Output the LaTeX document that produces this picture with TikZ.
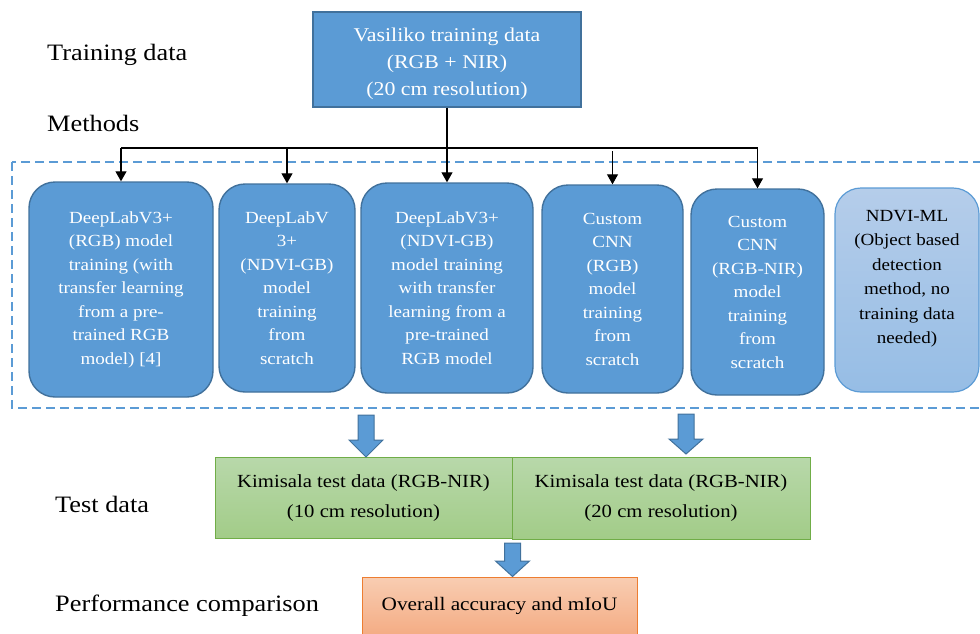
\documentclass[tikz,border=0pt]{standalone}
\usepackage{fontspec}
\setmainfont{Liberation Serif}[FakeStretch=1.12]
\usetikzlibrary{arrows.meta,calc}
\definecolor{bxblue}{HTML}{5B9BD5}
\definecolor{bxedge}{HTML}{41719C}
\definecolor{ltblueT}{HTML}{B5CDEA}
\definecolor{ltblueB}{HTML}{96BDE5}
\definecolor{grT}{HTML}{B8D8AA}
\definecolor{grB}{HTML}{A2CC88}
\definecolor{gredge}{HTML}{70AD47}
\definecolor{orT}{HTML}{F8CDB2}
\definecolor{orB}{HTML}{F4AC84}
\definecolor{oredge}{HTML}{ED7D31}
\tikzset{
  methodbox/.style={draw=bxedge, line width=1.4pt, fill=bxblue, rounded corners=26pt,
    text=white, align=center, inner sep=0pt, font=\fontsize{17}{23.5}\selectfont},
  lightbox/.style={draw=bxblue, line width=1.2pt, top color=ltblueT, bottom color=ltblueB,
    rounded corners=26pt, inner sep=0pt},
  trainbox/.style={draw=bxedge, line width=1.4pt, fill=bxblue, inner sep=0pt},
  traintext/.style={text=white, align=center, inner sep=0pt, font=\fontsize{19.5}{27}\selectfont},
  testbox/.style={draw=gredge, line width=1pt, top color=grT, bottom color=grB, align=center,
    inner sep=0pt, font=\fontsize{18.5}{30}\selectfont},
  resbox/.style={draw=oredge, line width=1pt, top color=orT, bottom color=orB, align=center,
    inner sep=0pt, font=\fontsize{19}{24}\selectfont},
  lbl/.style={anchor=west, inner sep=0pt, font=\fontsize{23.5}{26}\selectfont},
  thinarrow/.style={line width=1.1pt, -{Triangle[width=11pt,length=10pt]}},
  blockarrow/.style={fill=bxblue, draw=bxedge, line width=1pt}
}
\begin{document}
\begin{tikzpicture}[x=1pt,y=-1pt]
\useasboundingbox (0,0) rectangle (980,633);
\clip (0,0) rectangle (980,633);

% labels
\node[lbl] (ltrain) at (47,55) {Training data};
\node[lbl] (lmeth) at (47,123) {Methods};
\node[lbl] (ltest) at (55,504) {Test data};
\node[lbl] (lperf) at (55,606) {Performance comparison};

% training data box
\node[trainbox, minimum width=268pt, minimum height=95pt] (vas) at (447,59.5) {};
\node[traintext] (vast) at (447,64)
  {Vasiliko training data\\(RGB + NIR)\\(20 cm resolution)};

% dashed frame
\draw[bxblue, line width=1.5pt, dash pattern=on 9pt off 5pt] (12,162) rectangle (1000,408);

% method boxes
\node[methodbox, minimum width=184pt, minimum height=215pt] (m1) at (121,289.5)
  {DeepLabV3+\\(RGB) model\\training (with\\transfer learning\\from a pre-\\trained RGB\\model) [4]};
\node[methodbox, minimum width=136pt, minimum height=208pt] (m2) at (287,288)
  {DeepLabV\\3+\\(NDVI-GB)\\model\\training\\from\\scratch};
\node[methodbox, minimum width=172pt, minimum height=210pt] (m3) at (447,288)
  {DeepLabV3+\\(NDVI-GB)\\model training\\with transfer\\learning from a\\pre-trained\\RGB model};
\node[methodbox, minimum width=141pt, minimum height=208pt] (m4) at (612.5,289)
  {Custom\\CNN\\(RGB)\\model\\training\\from\\scratch};
\node[methodbox, minimum width=133pt, minimum height=206pt] (m5) at (757.5,292)
  {Custom\\CNN\\(RGB-NIR)\\model\\training\\from\\scratch};
\node[lightbox, minimum width=144pt, minimum height=204pt] (m6) at (907,290) {};
\node[align=center, inner sep=0pt, font=\fontsize{17}{24.5}\selectfont] (m6t) at (907,278.5)
  {NDVI-ML\\(Object based\\detection\\method, no\\training data\\needed)};

% thin connectors
\coordinate (bus) at (0,148);
\draw[thinarrow] (vas.south) -- (m3.north);
\draw[line width=1.1pt] (m1.north |- bus) -- (m5.north |- bus);
\draw[thinarrow] (m1.north |- bus) -- (m1.north);
\draw[thinarrow] (m2.north |- bus) -- (m2.north);
\draw[thinarrow] ($(m4.north |- bus)+(0,3)$) -- (m4.north);
\draw[thinarrow] (m5.north |- bus) -- (m5.north);

% test data boxes
\node[testbox, minimum width=297pt, minimum height=81pt] (t1) at (363.5,498)
  {Kimisala test data (RGB-NIR)\\(10 cm resolution)};
\node[testbox, minimum width=298pt, minimum height=82pt] (t2) at (661,498)
  {Kimisala test data (RGB-NIR)\\(20 cm resolution)};

% result box
\node[resbox, minimum width=275pt, minimum height=58pt] (res) at (499.5,606)
  {Overall accuracy and mIoU};

% block arrows
\coordinate (a1) at (366,415);
\coordinate (a2) at (686,414);
\draw[blockarrow] ($(a1)+(-8,0)$) -- ($(a1)+(8,0)$) -- ($(a1)+(8,25)$) -- ($(a1)+(17,25)$)
  -- (a1 |- t1.north) -- ($(a1)+(-17,25)$) -- ($(a1)+(-8,25)$) -- cycle;
\draw[blockarrow] ($(a2)+(-8,0)$) -- ($(a2)+(8,0)$) -- ($(a2)+(8,25)$) -- ($(a2)+(17,25)$)
  -- ($(a2)+(0,40)$) -- ($(a2)+(-17,25)$) -- ($(a2)+(-8,25)$) -- cycle;
\coordinate (a3) at (res.north -| t1.south east);
\coordinate (a3s) at ($(t1.south east)+(0,4)$);
\draw[blockarrow] ($(a3s)+(-8,0)$) -- ($(a3s)+(8,0)$) -- ($(a3s)+(8,18)$) -- ($(a3s)+(17,18)$)
  -- (a3) -- ($(a3s)+(-17,18)$) -- ($(a3s)+(-8,18)$) -- cycle;
\end{tikzpicture}
\end{document}
